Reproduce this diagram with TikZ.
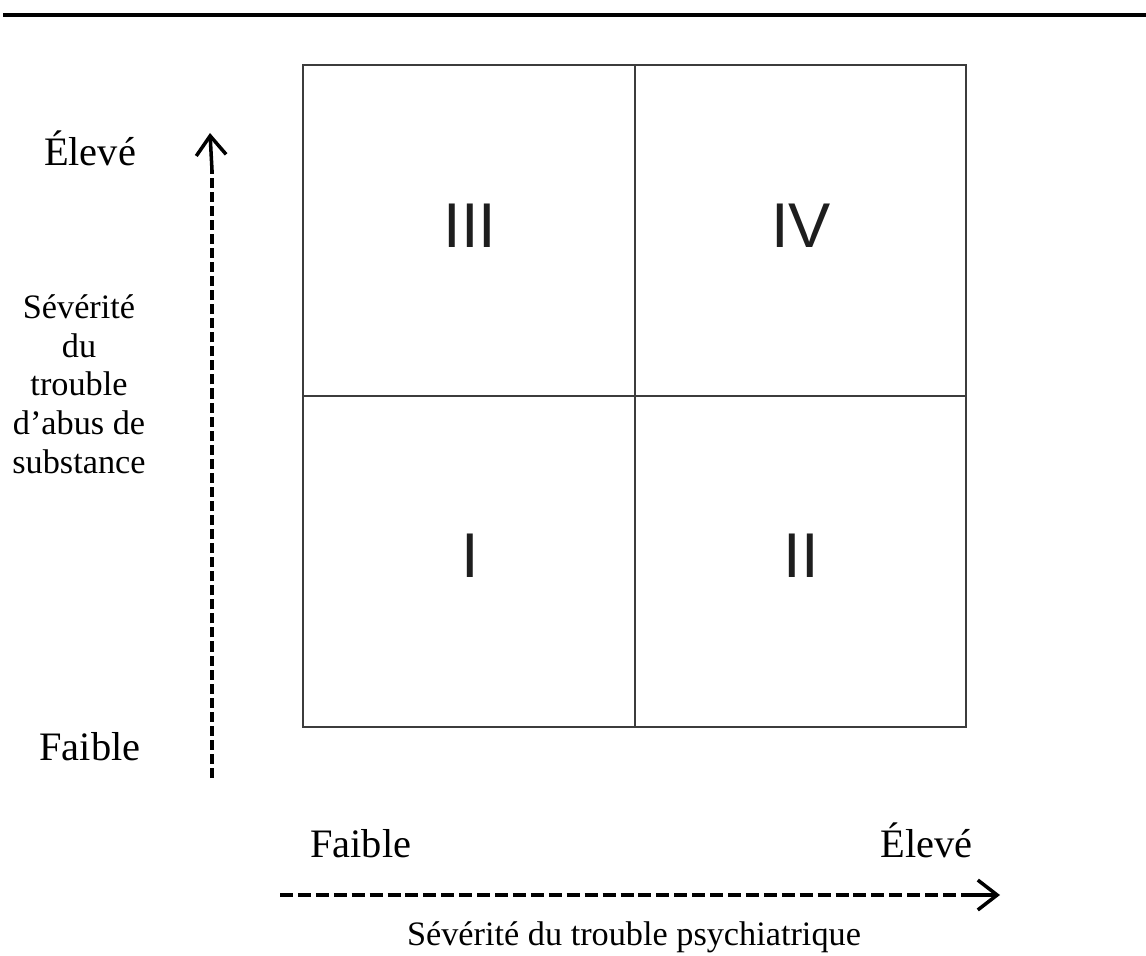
\documentclass[tikz,border=0pt]{standalone}
\usepackage{fontspec}
\setmainfont{Liberation Serif}
\newfontfamily\numfont{Liberation Sans}
\usepackage{xcolor}
\usepackage{tikz}
\usetikzlibrary{arrows.meta, positioning}
\definecolor{gridgray}{RGB}{60, 60, 60}
\definecolor{numgray}{RGB}{30, 30, 30}

\tikzset{
    vdash/.style={line width=2pt, dash pattern=on 5.7pt off 2.3pt},
    hdash/.style={line width=2pt, dash pattern=on 7.4pt off 2.8pt},
    axistip/.style={line width=2pt, -{Straight Barb[length=11pt, width=17pt]}},
    quadnum/.style={font=\numfont\fontsize{36}{36}\selectfont, text=numgray},
    levellabel/.style={font=\fontsize{23}{27}\selectfont, inner sep=0pt},
    axistitle/.style={font=\fontsize{19.5}{22}\selectfont, align=center, inner sep=0pt}
}

\begin{document}
\begin{tikzpicture}[x=0.02cm, y=-0.02cm]
    \useasboundingbox (0,0) rectangle (1146,956);

    % Top rule
    \draw[line width=0.08cm] (3,15) -- (1146,15);

    % Quadrant grid
    \draw[gridgray, line width=0.04cm] (303,65) rectangle (966,727);
    \draw[gridgray, line width=0.04cm] (635,65) -- (635,727);
    \draw[gridgray, line width=0.04cm] (303,396) -- (966,396);
    \node[quadnum] (q3) at (470,226) {III};
    \node[quadnum] (q4) at (801,226) {IV};
    \node[quadnum] (q1) at (470,556) {I};
    \node[quadnum] (q2) at (801,556) {II};

    % Vertical axis
    \coordinate (ybot) at (212,778);
    \coordinate (ymid) at (212,170);
    \coordinate (ytop) at (210,133);
    \draw[vdash] (ybot) -- (ymid);
    \draw[axistip] (ymid) -- (ytop);
    \node[levellabel, anchor=base] (yhigh) at (90,166) {Élevé};
    \node[levellabel, anchor=base] (ylow) at (90,760) {Faible};
    \node[axistitle, anchor=base] (ytitle) at (79,473) {Sévérité\\du\\trouble\\d’abus de\\substance};

    % Horizontal axis
    \coordinate (xleft) at (280,895);
    \coordinate (xmid) at (965,895);
    \coordinate (xright) at (1000,895);
    \draw[hdash] (xleft) -- (xmid);
    \draw[axistip] (xmid) -- (xright);
    \node[levellabel, anchor=base west] (xlow) at (310,857) {Faible};
    \node[levellabel, anchor=base west] (xhigh) at (880,857) {Élevé};
    \node[axistitle, anchor=base] (xtitle) at (634,945) {Sévérité du trouble psychiatrique};
\end{tikzpicture}
\end{document}
